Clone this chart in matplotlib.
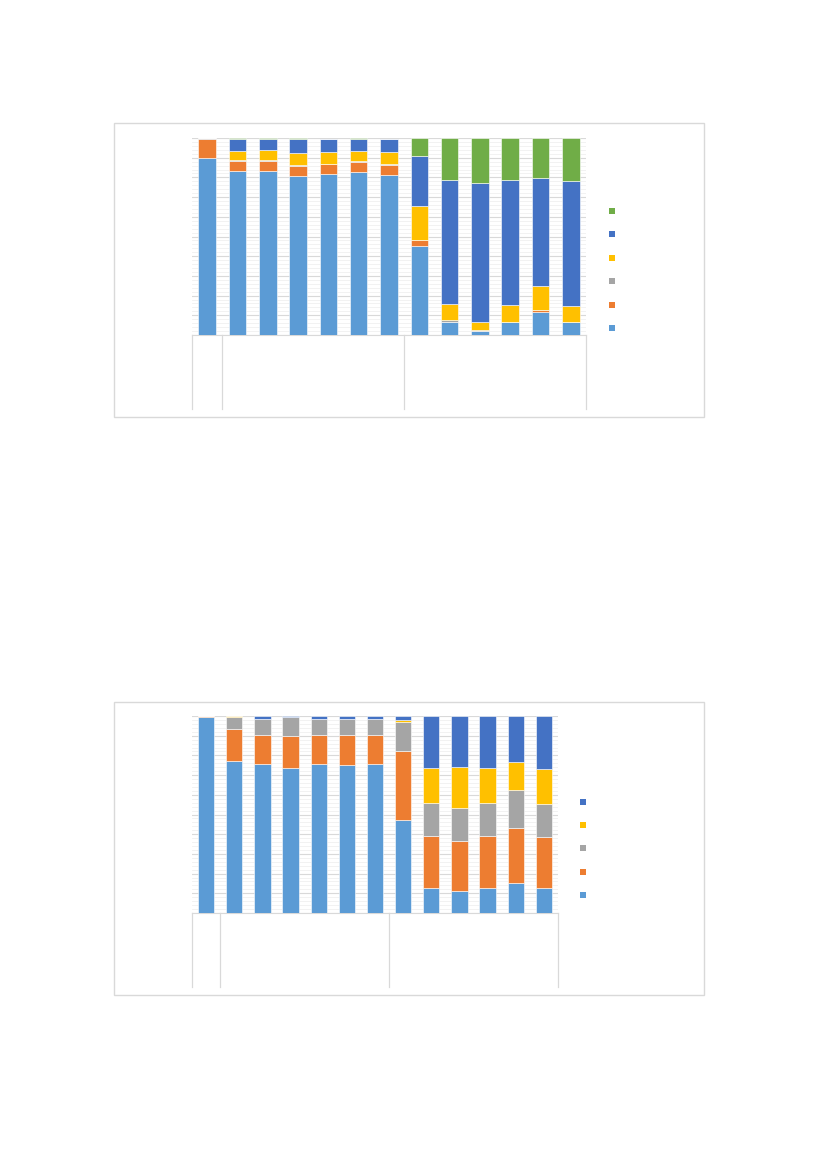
import matplotlib.pyplot as plt
import numpy as np
from matplotlib.patches import Rectangle
from matplotlib.lines import Line2D
import matplotlib.transforms as mtransforms

# Cores padrao do Excel
c_lblue = "#5B9BD5"
c_orange = "#ED7D31"
c_grey = "#A5A5A5"
c_yellow = "#FFC000"
c_blue = "#4472C4"
c_green = "#70AD47"

# Grafico 1 - percentuais acumulados por categoria (13 barras)
g1_lblue = [89.8, 83.4, 83.4, 80.7, 81.7, 82.7, 81.4, 45.0, 6.6, 2.2, 6.6, 11.8, 6.6]
g1_orange = [9.7, 4.9, 5.1, 5.3, 5.0, 5.3, 5.1, 3.1, 0.2, 0.0, 0.0, 0.7, 0.0]
g1_grey = [0.3, 0.3, 0.3, 0.3, 0.3, 0.3, 0.5, 0.3, 1.0, 0.1, 0.1, 0.3, 0.1]
g1_yellow = [0.0, 5.0, 5.3, 6.1, 6.1, 5.1, 5.9, 17.1, 7.9, 4.3, 8.5, 12.1, 7.9]
g1_blue = [0.0, 6.1, 5.6, 7.3, 6.3, 6.3, 6.5, 25.5, 63.0, 70.7, 63.5, 54.8, 63.5]
g1_green = [0.2, 0.3, 0.3, 0.3, 0.3, 0.3, 0.3, 9.0, 21.3, 22.7, 21.3, 20.3, 21.9]

# Grafico 2 - cinco series
g2_lblue = [99.3, 77.0, 75.5, 73.8, 75.5, 75.0, 75.5, 47.2, 12.5, 11.3, 12.5, 15.4, 12.5]
g2_orange = [0.7, 16.6, 15.0, 16.0, 15.0, 15.5, 15.0, 35.2, 26.4, 25.1, 26.4, 27.9, 25.9]
g2_grey = [0.0, 5.7, 7.8, 9.5, 8.1, 8.1, 7.8, 14.7, 17.1, 17.1, 17.1, 19.1, 16.9]
g2_yellow = [0.0, 0.7, 0.3, 0.2, 0.0, 0.0, 0.3, 1.0, 17.6, 20.6, 17.6, 14.4, 18.0]
g2_blue = [0.0, 0.0, 1.4, 0.5, 1.4, 1.4, 1.4, 1.9, 26.4, 25.9, 26.4, 23.2, 26.7]

series1 = [(g1_lblue, c_lblue), (g1_orange, c_orange), (g1_grey, c_grey),
           (g1_yellow, c_yellow), (g1_blue, c_blue), (g1_green, c_green)]
series2 = [(g2_lblue, c_lblue), (g2_orange, c_orange), (g2_grey, c_grey),
           (g2_yellow, c_yellow), (g2_blue, c_blue)]

# Separadores dos grupos de categorias (1 + 6 + 6)
separadores = [-0.5, 0.5, 6.5, 12.5]

W, H = 827, 1169
fig = plt.figure(figsize=(W / 100, H / 100), dpi=100)


def px(x0, y0, x1, y1):
    return [x0 / W, 1 - y1 / H, (x1 - x0) / W, (y1 - y0) / H]


def grafico(frame, area, series, largura, leg_x, leg_y0, leg_dy, sep_bottom):
    fig.patches.append(Rectangle((frame[0], frame[1]), frame[2], frame[3],
                                 transform=fig.transFigure, fill=False,
                                 edgecolor="#D9D9D9", linewidth=1))
    ax = fig.add_axes(area)
    x = np.arange(len(series[0][0]))
    base = np.zeros(len(x))
    for vals, cor in series:
        v = np.array(vals, dtype=float)
        ax.bar(x, v, bottom=base, width=largura, color=cor,
               edgecolor="white", linewidth=0.4, zorder=3)
        base += v
    ax.set_xlim(-0.5, len(x) - 0.5)
    ax.set_ylim(0, 100)
    ax.set_yticks(np.arange(0, 101, 10))
    ax.set_yticks(np.arange(0, 101, 2), minor=True)
    ax.grid(axis="y", which="major", color="#D9D9D9", linewidth=0.8, zorder=0)
    ax.grid(axis="y", which="minor", color="#F0F0F0", linewidth=0.6, zorder=0)
    ax.tick_params(which="both", length=0, labelleft=False, labelbottom=False)
    for s in ["top", "left", "right"]:
        ax.spines[s].set_visible(False)
    ax.spines["bottom"].set_color("#D9D9D9")
    tr = mtransforms.blended_transform_factory(ax.transData, ax.transAxes)
    for sx in separadores:
        ax.add_line(Line2D([sx, sx], [0, sep_bottom], transform=tr,
                           color="#D9D9D9", linewidth=0.9, clip_on=False))
    # marcadores da legenda (de baixo para cima)
    for i, (vals, cor) in enumerate(series):
        yy = leg_y0 - i * leg_dy
        fig.patches.append(Rectangle(((leg_x - 3) / W, 1 - (yy + 3) / H),
                                     6 / W, 6 / H, transform=fig.transFigure,
                                     facecolor=cor, edgecolor="none"))
    return ax


grafico(px(114, 123, 704, 417), px(192, 138, 586, 335), series1, 0.58,
        612, 328, 23.4, -74 / 197)
grafico(px(114, 702, 704, 995), px(192, 716, 558, 913), series2, 0.58,
        583, 895, 23.3, -74 / 197)

plt.savefig("out.png", dpi=100)
